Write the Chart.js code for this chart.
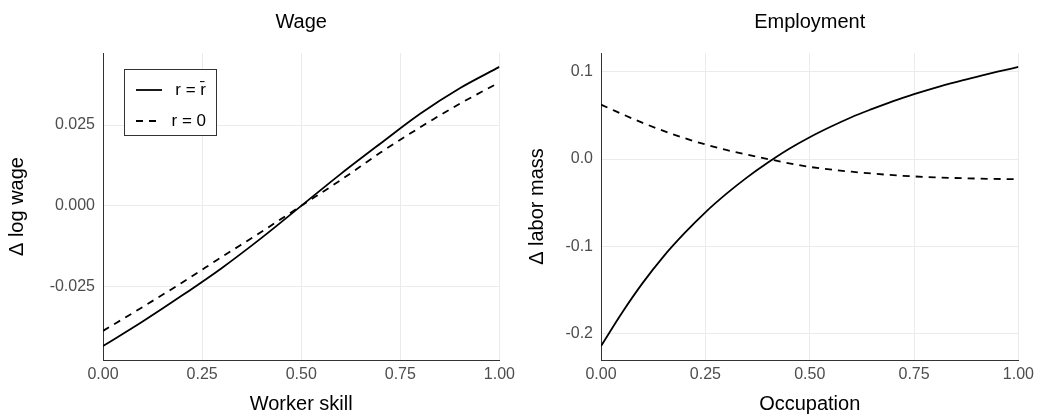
<!DOCTYPE html>
<html>
<head>
<meta charset="utf-8">
<script src="https://cdn.jsdelivr.net/npm/chart.js@4"></script>
<style>
  body { margin: 0; background: #fff; }
  .panel { position: absolute; top: 0; height: 414px; }
</style>
</head>
<body>
<div class="panel" style="left:0;width:520px"><canvas id="wageChart" width="520" height="414"></canvas></div>
<div class="panel" style="left:520px;width:519px"><canvas id="empChart" width="519" height="414"></canvas></div>
<script>
// values
const wageX = [0, 0.1, 0.2, 0.3, 0.4, 0.5, 0.6, 0.7, 0.8, 0.9, 1];
const wageSolid = [-0.0434, -0.0358, -0.0277, -0.0192, -0.0099, 0, 0.0099, 0.0193, 0.0285, 0.0364, 0.0430];
const wageDashed = [-0.0387, -0.0313, -0.0237, -0.0158, -0.0080, 0, 0.0080, 0.0165, 0.0243, 0.0316, 0.0382];

const empSolidX = [0, 0.05, 0.1, 0.15, 0.2, 0.25, 0.3, 0.35, 0.4, 0.45, 0.5,
                   0.55, 0.6, 0.65, 0.7, 0.75, 0.8, 0.85, 0.9, 0.95, 1];
const empSolid = [-0.2146, -0.1766, -0.1421, -0.1116, -0.0851, -0.0611, -0.040, -0.021, -0.004, 0.0115, 0.025,
                  0.037, 0.048, 0.0575, 0.0665, 0.0745, 0.0818, 0.0883, 0.0943, 0.1002, 0.1057];
const empDashedX = [0, 0.1, 0.2, 0.3, 0.4, 0.5, 0.6, 0.7, 0.8, 0.9, 1];
const empDashed = [0.0624, 0.0415, 0.0240, 0.0105, 0, -0.0090, -0.0145, -0.0185, -0.0210, -0.0224, -0.0232];

const seriesLabels = ['r = r\u0304', 'r = 0'];

const unitTicks = [0, 0.25, 0.5, 0.75, 1];
const unitTickLabels = ['0.00', '0.25', '0.50', '0.75', '1.00'];
const wageTicks = [-0.025, 0, 0.025];
const wageTickLabels = ['-0.025', '0.000', '0.025'];
const empTicks = [-0.2, -0.1, 0, 0.1];
const empTickLabels = ['-0.2', '-0.1', '0.0', '0.1'];

const FONT = '"Liberation Sans", Arial, sans-serif';
const GRID = '#ebebeb';
const AXIS = '#333333';
const TICKTEXT = '#4d4d4d';

function pts(xs, ys) {
    return xs.map((x, i) => ({x: x, y: ys[i]}));
}

// boxed legend inside the plot, like the ggplot one
const boxLegend = {
    id: 'boxLegend',
    afterDraw(chart) {
        const ctx = chart.ctx;
        const area = chart.chartArea;
        const bx = Math.round(area.left + 21), by = Math.round(area.top + 16), bw = 92, bh = 66;
        ctx.save();
        ctx.fillStyle = '#fff';
        ctx.fillRect(bx, by, bw, bh);
        ctx.strokeStyle = AXIS;
        ctx.lineWidth = 1;
        ctx.strokeRect(bx + 0.5, by + 0.5, bw, bh);
        chart.data.datasets.forEach((ds, i) => {
            const ly = by + 21 + i * 31;
            ctx.setLineDash(ds.borderDash || []);
            ctx.strokeStyle = ds.borderColor;
            ctx.lineWidth = ds.borderWidth;
            ctx.beginPath();
            ctx.moveTo(bx + 12, ly);
            ctx.lineTo(bx + 38, ly);
            ctx.stroke();
            ctx.setLineDash([]);
            ctx.fillStyle = '#000';
            ctx.font = '17px ' + FONT;
            ctx.textAlign = 'right';
            ctx.textBaseline = 'middle';
            ctx.fillText(ds.label, bx + 82, ly);
        });
        ctx.restore();
    }
};

function makeChart(canvasId, title, xTitle, yTitle, datasets, yMin, yMax, yTicks, yTickLabels, yAxisWidth, rightPad, extraPlugins) {
    const ctx = document.getElementById(canvasId).getContext('2d');
    return new Chart(ctx, {
        type: 'line',
        data: { datasets: datasets },
        options: {
            responsive: false,
            animation: false,
            devicePixelRatio: 1,
            layout: { padding: { left: 0, right: rightPad, top: 0, bottom: 0 } },
            elements: { point: { radius: 0 }, line: { cubicInterpolationMode: 'monotone' } },
            plugins: {
                legend: { display: false },
                tooltip: { enabled: false },
                title: {
                    display: true,
                    text: title,
                    fullSize: false,
                    color: '#000',
                    font: { family: FONT, size: 20, weight: 'normal', lineHeight: 1.2 },
                    padding: { top: 10, bottom: 19 }
                }
            },
            scales: {
                x: {
                    type: 'linear',
                    min: 0,
                    max: 1,
                    afterBuildTicks: s => { s.ticks = unitTicks.map(v => ({value: v})); },
                    afterFit: s => { s.height = 54; },
                    grid: { color: GRID, lineWidth: 1, drawTicks: false },
                    border: { display: true, color: AXIS, width: 1 },
                    ticks: {
                        color: TICKTEXT,
                        font: { family: FONT, size: 16 },
                        padding: 5,
                        maxRotation: 0,
                        callback: (v, i) => unitTickLabels[i]
                    },
                    title: {
                        display: true,
                        text: xTitle,
                        color: '#000',
                        font: { family: FONT, size: 20, lineHeight: 1 },
                        padding: { top: 0, bottom: 0 }
                    }
                },
                y: {
                    type: 'linear',
                    min: yMin,
                    max: yMax,
                    afterBuildTicks: s => { s.ticks = yTicks.map(v => ({value: v})); },
                    afterFit: s => { s.width = yAxisWidth; },
                    grid: { color: GRID, lineWidth: 1, drawTicks: false },
                    border: { display: true, color: AXIS, width: 1 },
                    ticks: {
                        color: TICKTEXT,
                        font: { family: FONT, size: 16 },
                        padding: 8,
                        callback: (v, i) => yTickLabels[i]
                    },
                    title: {
                        display: true,
                        text: yTitle,
                        color: '#000',
                        font: { family: FONT, size: 20, lineHeight: 1 },
                        padding: { top: 7, bottom: 0 }
                    }
                }
            }
        },
        plugins: extraPlugins
    });
}

function lineSet(label, data, dashed) {
    return {
        label: label,
        data: data,
        borderColor: '#000',
        borderWidth: 1.8,
        borderDash: dashed ? [7, 6] : [],
        fill: false,
        pointRadius: 0
    };
}

makeChart('wageChart', 'Wage', 'Worker skill', '\u0394 log wage',
    [lineSet(seriesLabels[0], pts(wageX, wageSolid), false),
     lineSet(seriesLabels[1], pts(wageX, wageDashed), true)],
    -0.0477, 0.0473, wageTicks, wageTickLabels, 103, 19, [boxLegend]);

makeChart('empChart', 'Employment', 'Occupation', '\u0394 labor mass',
    [lineSet(seriesLabels[0], pts(empSolidX, empSolid), false),
     lineSet(seriesLabels[1], pts(empDashedX, empDashed), true)],
    -0.2306, 0.1217, empTicks, empTickLabels, 81, 18, []);
</script>
</body>
</html>
